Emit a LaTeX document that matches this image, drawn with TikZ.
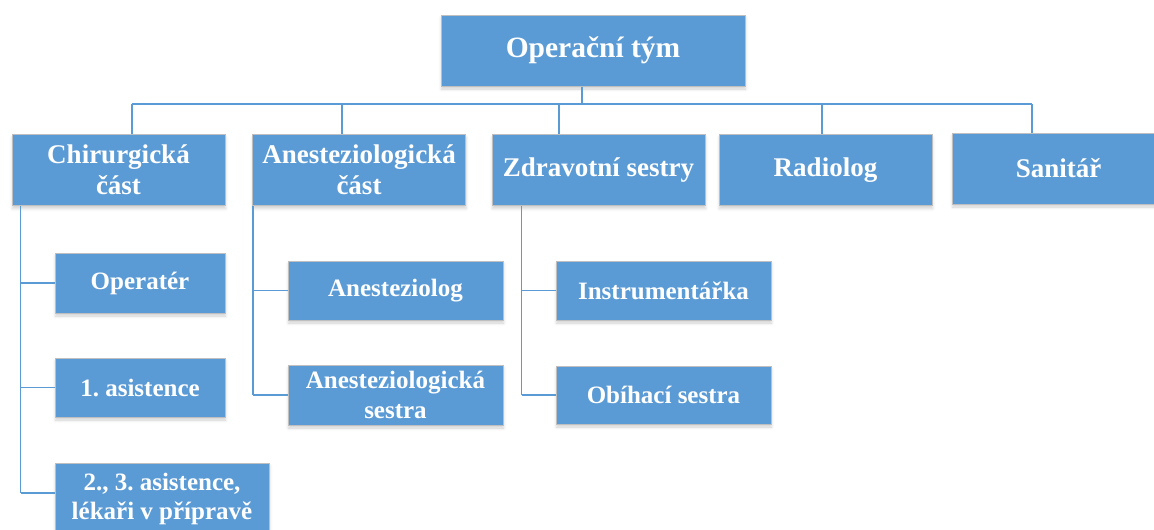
\documentclass[tikz,border=0pt]{standalone}
\usepackage{fontspec}
\setmainfont{Liberation Serif}
\usetikzlibrary{shadows.blur}
\definecolor{boxblue}{HTML}{5B9BD5}
\definecolor{boxedge}{HTML}{BFBFBF}
\definecolor{linkblue}{HTML}{5B9BD5}
\tikzset{
  unitbox/.style={draw=boxedge, line width=1pt, fill=boxblue, text=white,
    align=center, inner sep=0pt,
    blur shadow={shadow xshift=0.5pt, shadow yshift=-3pt,
      shadow blur radius=3pt, shadow opacity=18}},
  rootbox/.style={unitbox, font=\fontsize{29.5}{34}\selectfont\bfseries},
  deptbox/.style={unitbox, minimum width=213pt, minimum height=71pt,
    font=\fontsize{27}{31}\selectfont\bfseries},
  rolebox/.style={unitbox, font=\fontsize{25}{29.5}\selectfont\bfseries},
  link/.style={draw=linkblue, line width=1.5pt},
}
\begin{document}
\frenchspacing
\begin{tikzpicture}[x=1pt, y=-1pt]
\useasboundingbox (0,0) rectangle (1154,530);
\clip (0,0) rectangle (1154,530);

% top of the hierarchy
\node[rootbox, minimum width=304pt, minimum height=71pt] (root) at (593,50.5) {Operační tým};

% departments
\node[deptbox] (chir)  at (118.5,170) {Chirurgická\\část};
\node[deptbox] (anest) at (359,170)   {Anesteziologická\\část};
\node[deptbox] (zdrav) at (598.5,170) {Zdravotní sestry};
\node[deptbox] (radio) at (825.5,170) {Radiolog};
\node[deptbox] (sanit) at (1058.5,168.5) {Sanitář};

% roles
\node[rolebox, minimum width=170pt, minimum height=60pt] (oper)    at (140,283)     {Operatér};
\node[rolebox, minimum width=170pt, minimum height=59pt] (asistA)  at (140,387.5)   {1. asistence};
\node[rolebox, minimum width=214pt, minimum height=72pt] (asistB)  at (162,499)     {2., 3. asistence,\\lékaři v přípravě};
\node[rolebox, minimum width=215pt, minimum height=59pt] (anlog)   at (395.5,290.5) {Anesteziolog};
\node[rolebox, minimum width=215pt, minimum height=60pt] (ansestra) at (395.5,395)  {Anesteziologická\\sestra};
\node[rolebox, minimum width=215pt, minimum height=59pt] (instr)   at (663.5,290.5) {Instrumentářka};
\node[rolebox, minimum width=215pt, minimum height=58pt] (obih)    at (663.5,395)   {Obíhací sestra};

% attachment points
\coordinate (bus) at (0,104);
\coordinate (rootdrop)  at ([xshift=-11pt]root.south);
\coordinate (chirtop)   at ([xshift=13.5pt]chir.north);
\coordinate (anesttop)  at ([xshift=-17pt]anest.north);
\coordinate (zdravtop)  at ([xshift=-39.5pt]zdrav.north);
\coordinate (radiotop)  at ([xshift=-3.5pt]radio.north);
\coordinate (sanittop)  at ([xshift=-26.5pt]sanit.north);
\coordinate (chirspine)  at ([xshift=9pt]chir.south west);
\coordinate (anestspine) at ([xshift=1pt]anest.south west);
\coordinate (zdravspine) at ([xshift=30pt]zdrav.south west);
\coordinate (asistBin)   at ([yshift=6pt]asistB.west);

% upper level connectors
\draw[link] (rootdrop) -- (rootdrop |- bus);
\draw[link] (chirtop |- bus) -- (sanittop |- bus);
\foreach \t in {chirtop, anesttop, zdravtop, radiotop, sanittop}
  \draw[link] (\t |- bus) -- (\t);

% lower level connectors
\draw[link] (chirspine) -- (chirspine |- asistBin);
\draw[link] (chirspine |- oper.west) -- (oper.west);
\draw[link] (chirspine |- asistA.west) -- (asistA.west);
\draw[link] (chirspine |- asistBin) -- (asistBin);

\draw[link] (anestspine) -- (anestspine |- ansestra.west);
\draw[link] (anestspine |- anlog.west) -- (anlog.west);
\draw[link] (anestspine |- ansestra.west) -- (ansestra.west);

\draw[link] (zdravspine) -- (zdravspine |- obih.west);
\draw[link] (zdravspine |- instr.west) -- (instr.west);
\draw[link] (zdravspine |- obih.west) -- (obih.west);
\end{tikzpicture}
\end{document}
